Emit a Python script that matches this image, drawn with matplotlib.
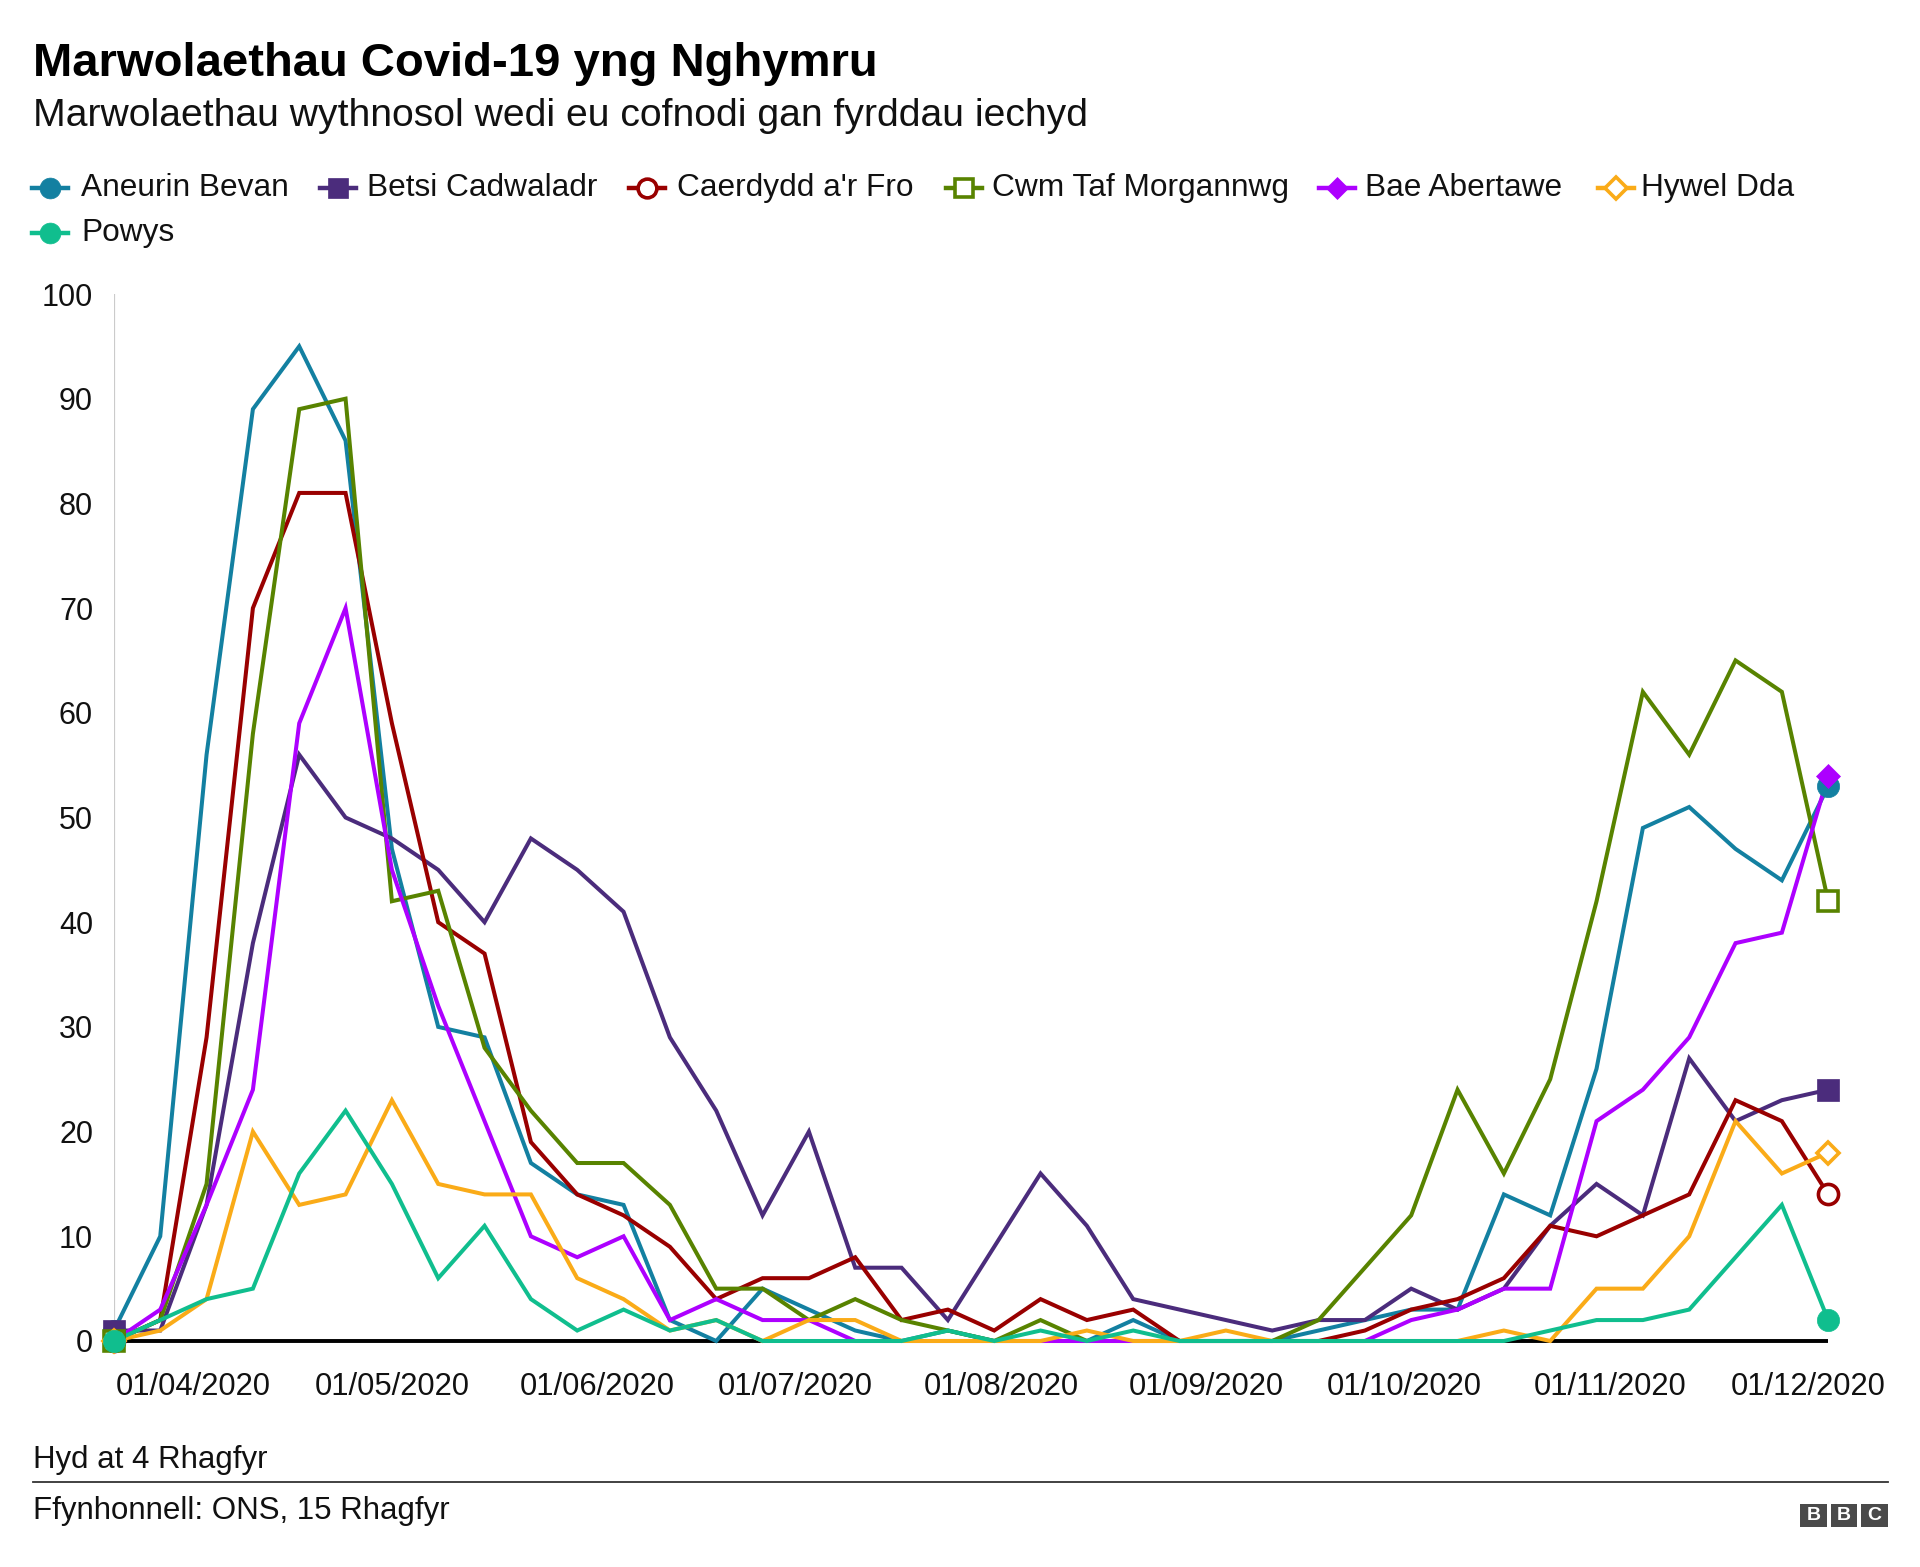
import matplotlib
matplotlib.use("Agg")
import matplotlib.pyplot as plt
from matplotlib.lines import Line2D
from matplotlib.patches import Rectangle
import pandas as pd

plt.rcParams['font.family'] = ['Liberation Sans', 'DejaVu Sans']

# ---------------- data ----------------
week_ending = [
    "2020-03-20", "2020-03-27", "2020-04-03", "2020-04-10", "2020-04-17", "2020-04-24",
    "2020-05-01", "2020-05-08", "2020-05-15", "2020-05-22", "2020-05-29", "2020-06-05",
    "2020-06-12", "2020-06-19", "2020-06-26", "2020-07-03", "2020-07-10", "2020-07-17",
    "2020-07-24", "2020-07-31", "2020-08-07", "2020-08-14", "2020-08-21", "2020-08-28",
    "2020-09-04", "2020-09-11", "2020-09-18", "2020-09-25", "2020-10-02", "2020-10-09",
    "2020-10-16", "2020-10-23", "2020-10-30", "2020-11-06", "2020-11-13", "2020-11-20",
    "2020-11-27", "2020-12-04",
]

tick_dates = ["2020-04-01", "2020-05-01", "2020-06-01", "2020-07-01", "2020-08-01",
              "2020-09-01", "2020-10-01", "2020-11-01", "2020-12-01"]
tick_labels = ["01/04/2020", "01/05/2020", "01/06/2020", "01/07/2020", "01/08/2020",
               "01/09/2020", "01/10/2020", "01/11/2020", "01/12/2020"]
y_ticks = [0, 10, 20, 30, 40, 50, 60, 70, 80, 90, 100]

aneurin_bevan = [1, 10, 56, 89, 95, 86, 47, 30, 29, 17, 14, 13, 2, 0, 5, 3, 1, 0, 1, 0,
                 0, 0, 2, 0, 0, 0, 1, 2, 3, 3, 14, 12, 26, 49, 51, 47, 44, 53]
betsi_cadwaladr = [1, 1, 13, 38, 56, 50, 48, 45, 40, 48, 45, 41, 29, 22, 12, 20, 7, 7, 2, 9,
                   16, 11, 4, 3, 2, 1, 2, 2, 5, 3, 5, 11, 15, 12, 27, 21, 23, 24]
caerdydd = [0, 2, 29, 70, 81, 81, 59, 40, 37, 19, 14, 12, 9, 4, 6, 6, 8, 2, 3, 1,
            4, 2, 3, 0, 0, 0, 0, 1, 3, 4, 6, 11, 10, 12, 14, 23, 21, 14]
cwm_taf = [0, 2, 15, 58, 89, 90, 42, 43, 28, 22, 17, 17, 13, 5, 5, 2, 4, 2, 1, 0,
           2, 0, 0, 0, 0, 0, 2, 7, 12, 24, 16, 25, 42, 62, 56, 65, 62, 42]
bae_abertawe = [0, 3, 13, 24, 59, 70, 45, 32, 21, 10, 8, 10, 2, 4, 2, 2, 0, 0, 0, 0,
                0, 0, 0, 0, 0, 0, 0, 0, 2, 3, 5, 5, 21, 24, 29, 38, 39, 54]
hywel_dda = [0, 1, 4, 20, 13, 14, 23, 15, 14, 14, 6, 4, 1, 2, 0, 2, 2, 0, 0, 0,
             0, 1, 0, 0, 1, 0, 0, 0, 0, 0, 1, 0, 5, 5, 10, 21, 16, 18]
powys = [0, 2, 4, 5, 16, 22, 15, 6, 11, 4, 1, 3, 1, 2, 0, 0, 0, 0, 1, 0,
         1, 0, 1, 0, 0, 0, 0, 0, 0, 0, 0, 1, 2, 2, 3, 8, 13, 2]

series_names = ["Aneurin Bevan", "Betsi Cadwaladr", "Caerdydd a'r Fro",
                "Cwm Taf Morgannwg", "Bae Abertawe", "Hywel Dda", "Powys"]
series_values = [aneurin_bevan, betsi_cadwaladr, caerdydd, cwm_taf,
                 bae_abertawe, hywel_dda, powys]

# ---------------- styles ----------------
colors = ["#1380A1", "#4B2C7C", "#990000", "#588300", "#AD00FF", "#FAAB18", "#10BE8E"]
markers = ["o", "s", "o", "s", "D", "D", "o"]
hollow = [False, False, True, True, False, True, False]
msizes = [16, 16, 14.5, 14.5, 12, 11, 16]
TXT = "#111111"

W, H = 1920, 1567
fig = plt.figure(figsize=(W / 100, H / 100), dpi=100)
fig.patch.set_facecolor("white")

ax_left, ax_right = 113.9, 1828.2
ax_top, ax_bottom = 294.0, 1341.0
ax = fig.add_axes([ax_left / W, 1 - ax_bottom / H,
                   (ax_right - ax_left) / W, (ax_bottom - ax_top) / H])

dates = pd.to_datetime(week_ending)
ax.set_xlim(dates[0], dates[-1])
ax.set_ylim(0, 100)

# axis decorations
ax.axvline(dates[0], color="#cbcbcb", lw=1.6, zorder=0)
ax.plot([dates[0], dates[-1]], [0, 0], color="black", lw=2.8, zorder=1,
        solid_capstyle="butt", clip_on=False)

for i, (name, vals) in enumerate(zip(series_names, series_values)):
    c = colors[i]
    ax.plot(dates, vals, color=c, lw=2.9, solid_joinstyle="miter",
            zorder=3 + i, clip_on=False)
for i, (name, vals) in enumerate(zip(series_names, series_values)):
    c = colors[i]
    ax.plot([dates[0], dates[-1]], [vals[0], vals[-1]], ls="none",
            marker=markers[i], ms=msizes[i],
            mfc="white" if hollow[i] else c, mec=c, mew=2.6 if hollow[i] else 0.5,
            zorder=20 + i, clip_on=False)

for s in ax.spines.values():
    s.set_visible(False)

ax.set_yticks(y_ticks)
ax.set_yticklabels([str(v) for v in y_ticks])
ax.set_xticks(pd.to_datetime(tick_dates))
ax.set_xticklabels(tick_labels)
ax.tick_params(axis="y", length=0, pad=15, labelsize=22, labelcolor=TXT)
ax.tick_params(axis="x", length=0, pad=22, labelsize=22.3, labelcolor=TXT)
ax.grid(False)

# ---------------- titles ----------------
def fy(py):
    return 1 - py / H

fig.text(33 / W, fy(76), "Marwolaethau Covid-19 yng Nghymru", fontsize=34,
         fontweight="bold", color="#000000", va="baseline", ha="left")
fig.text(33 / W, fy(126), "Marwolaethau wythnosol wedi eu cofnodi gan fyrddau iechyd",
         fontsize=28.2, color=TXT, va="baseline", ha="left")

# ---------------- legend ----------------
legend_pos = [(50, 81, 188), (338, 367, 188), (647, 677, 188), (964, 992, 188),
              (1337, 1365, 188), (1616, 1641, 188), (50, 81, 233)]
leg_ms = [15, 15, 13.5, 13.5, 11.5, 11, 15]
for i, (mx, tx, py) in enumerate(legend_pos):
    c = colors[i]
    fig.add_artist(Line2D([(mx - 18) / W, (mx + 18) / W], [fy(py), fy(py)],
                          transform=fig.transFigure, color=c, lw=3.2))
    fig.add_artist(Line2D([mx / W], [fy(py)], transform=fig.transFigure,
                          ls="none", marker=markers[i], ms=leg_ms[i],
                          mfc="white" if hollow[i] else c, mec=c,
                          mew=2.6 if hollow[i] else 0.5))
    fig.text(tx / W, fy(py), series_names[i], fontsize=22.8, color=TXT,
             va="center", ha="left")

# ---------------- footer ----------------
fig.text(33 / W, fy(1460), "Hyd at 4 Rhagfyr", fontsize=22.5, color=TXT,
         va="center", ha="left")
fig.add_artist(Line2D([33 / W, 1888 / W], [fy(1482), fy(1482)],
                      transform=fig.transFigure, color="#333333", lw=1.3))
fig.text(33 / W, fy(1511), "Ffynhonnell: ONS, 15 Rhagfyr", fontsize=22.5,
         color=TXT, va="center", ha="left")

# BBC logo
box_w, gap = 26.5, 4.0
x0 = 1800.0
for k, letter in enumerate("BBC"):
    bx = x0 + k * (box_w + gap)
    fig.add_artist(Rectangle((bx / W, fy(1527)), box_w / W, 23 / H,
                             transform=fig.transFigure, facecolor="#4a4a4a",
                             edgecolor="none"))
    fig.text((bx + box_w / 2) / W, fy(1515.5), letter, fontsize=14,
             fontweight="bold", color="white", ha="center", va="center")

fig.savefig("out.png", dpi=100, facecolor="white")
